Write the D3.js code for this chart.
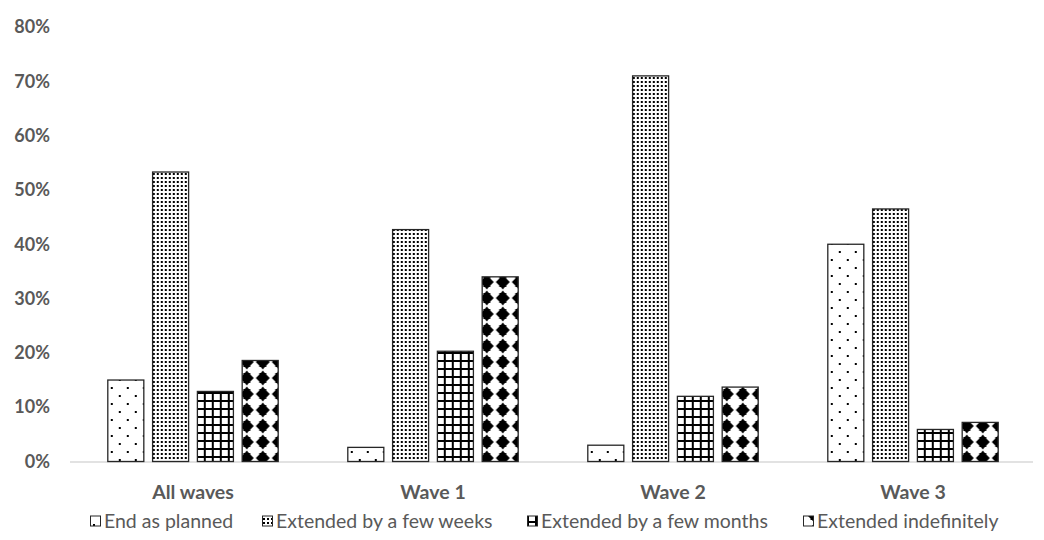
<!DOCTYPE html>
<html>
<head>
<meta charset="utf-8">
<script src="https://cdn.jsdelivr.net/npm/d3@7"></script>
<style>
  html, body { margin: 0; padding: 0; background: #fff; }
  svg { display: block; }
  text { font-family: Lato, "Open Sans", sans-serif; fill: #595959; }
</style>
</head>
<body>
<svg id="chart" width="1044" height="540"></svg>
<script>
// Survey waves and response series
const categories = ["All waves", "Wave 1", "Wave 2", "Wave 3"];
const seriesNames = ["End as planned", "Extended by a few weeks", "Extended by a few months", "Extended indefinitely"];
const endAsPlanned   = [0.150, 0.026, 0.030, 0.400];
const fewWeeks       = [0.533, 0.427, 0.710, 0.465];
const fewMonths      = [0.129, 0.203, 0.120, 0.059];
const indefinitely   = [0.186, 0.340, 0.137, 0.072];
const yTicks = [0, 0.1, 0.2, 0.3, 0.4, 0.5, 0.6, 0.7, 0.8];

const seriesValues = [endAsPlanned, fewWeeks, fewMonths, indefinitely];
const patternIds = ["pat-sparse", "pat-dense", "pat-grid", "pat-diamond"];

const svg = d3.select("#chart");
const margin = { left: 73, right: 11, top: 27, bottom: 78 };
const W = 1044, H = 540;

const x0 = d3.scaleBand()
  .domain(categories)
  .range([margin.left, W - margin.right])
  .paddingInner(0.29)
  .paddingOuter(0.145);
const x1 = d3.scaleBand()
  .domain(seriesNames)
  .range([0, x0.bandwidth()])
  .paddingInner(0.196);
const y = d3.scaleLinear()
  .domain([0, 0.8])
  .range([461.5, 27]);

// Fill patterns
const defs = svg.append("defs");

const pSparse = defs.append("pattern").attr("id", "pat-sparse")
  .attr("patternUnits", "userSpaceOnUse").attr("width", 16).attr("height", 16);
pSparse.append("rect").attr("width", 16).attr("height", 16).attr("fill", "#fff");
pSparse.append("rect").attr("x", 3).attr("y", 3).attr("width", 2).attr("height", 2).attr("fill", "#000");
pSparse.append("rect").attr("x", 11).attr("y", 11).attr("width", 2).attr("height", 2).attr("fill", "#000");

const pDense = defs.append("pattern").attr("id", "pat-dense")
  .attr("patternUnits", "userSpaceOnUse").attr("width", 4).attr("height", 4);
pDense.append("rect").attr("width", 4).attr("height", 4).attr("fill", "#fff");
pDense.append("rect").attr("x", 1).attr("y", 1).attr("width", 2).attr("height", 2).attr("fill", "#000");

const pGrid = defs.append("pattern").attr("id", "pat-grid")
  .attr("patternUnits", "userSpaceOnUse").attr("width", 8).attr("height", 8);
pGrid.append("rect").attr("width", 8).attr("height", 8).attr("fill", "#fff");
pGrid.append("rect").attr("x", 0).attr("y", 0).attr("width", 8).attr("height", 2).attr("fill", "#000");
pGrid.append("rect").attr("x", 0).attr("y", 0).attr("width", 2).attr("height", 8).attr("fill", "#000");

const pDiamond = defs.append("pattern").attr("id", "pat-diamond")
  .attr("patternUnits", "userSpaceOnUse").attr("width", 16).attr("height", 16)
  .attr("x", 3).attr("y", 2);
pDiamond.append("rect").attr("width", 16).attr("height", 16).attr("fill", "#fff");
pDiamond.append("path")
  .attr("d", "M8,0.5 L10,3 L11.5,3 L11.5,4.5 L15,8 L11.5,11.5 L11.5,13 L10,13 L8,15.5 L6,13 L4.5,13 L4.5,11.5 L1,8 L4.5,4.5 L4.5,3 L6,3 Z")
  .attr("fill", "#000");

// Baseline
svg.append("line")
  .attr("x1", 70).attr("x2", W - margin.right)
  .attr("y1", y(0) + 0.5).attr("y2", y(0) + 0.5)
  .attr("stroke", "#d9d9d9").attr("stroke-width", 1.5);

// Y tick labels
svg.append("g").selectAll("text")
  .data(yTicks)
  .join("text")
  .attr("x", 50)
  .attr("y", d => y(d))
  .attr("dy", "0.35em")
  .attr("text-anchor", "end")
  .style("font-size", "18px")
  .style("font-weight", "bold")
  .text(d3.format(".0%"));

// Bars
const groups = svg.append("g").selectAll("g")
  .data(categories)
  .join("g")
  .attr("transform", d => `translate(${x0(d)},0)`);

groups.selectAll("rect")
  .data((c, ci) => seriesNames.map((s, si) => ({ s, si, v: seriesValues[si][ci] })))
  .join("rect")
  .attr("x", d => x1(d.s))
  .attr("y", d => y(d.v))
  .attr("width", x1.bandwidth())
  .attr("height", d => y(0) - y(d.v))
  .attr("fill", d => `url(#${patternIds[d.si]})`)
  .attr("stroke", "#262626")
  .attr("stroke-width", 1.3);

// Category labels
svg.append("g").selectAll("text")
  .data(categories)
  .join("text")
  .attr("x", d => x0(d) + x0.bandwidth() / 2)
  .attr("y", 492)
  .attr("dy", "0.35em")
  .attr("text-anchor", "middle")
  .style("font-size", "19.5px")
  .style("font-weight", "bold")
  .text(d => d);

// Legend
const legendX = [90, 262, 527, 803];
const legend = svg.append("g").selectAll("g")
  .data(seriesNames)
  .join("g")
  .attr("transform", (d, i) => `translate(${legendX[i]},521)`);
legend.append("rect")
  .attr("x", 0.5).attr("y", -5)
  .attr("width", 10).attr("height", 10)
  .attr("fill", (d, i) => `url(#${patternIds[i]})`)
  .attr("stroke", "#262626")
  .attr("stroke-width", 1);
legend.append("text")
  .attr("x", 14)
  .attr("y", 0)
  .attr("dy", "0.35em")
  .style("font-size", "19.5px")
  .text(d => d);
</script>
</body>
</html>
